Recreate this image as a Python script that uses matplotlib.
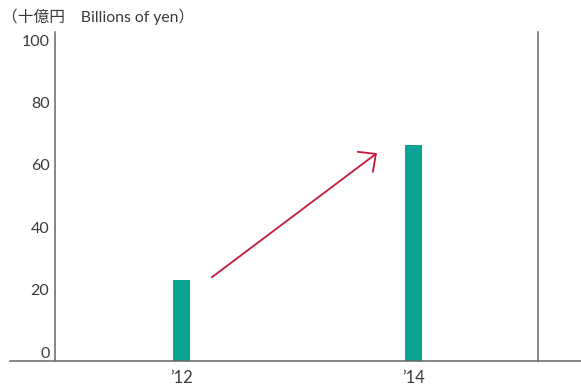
import matplotlib
matplotlib.use("Agg")
import matplotlib.pyplot as plt
from matplotlib.lines import Line2D

plt.rcParams['font.family'] = ['Lato', 'Noto Sans CJK JP', 'DejaVu Sans']

years = [2012, 2014]
year_labels = ["’12", "’14"]
values = [26, 69]
y_ticks = [0, 20, 40, 60, 80, 100]
unit_label = "（十億円　Billions of yen）"

W, H = 581, 387
fig = plt.figure(figsize=(W / 100, H / 100), dpi=100)
# axes box in pixel terms: left 55, right 538, bottom 360.7, top 32
ax = fig.add_axes([55 / W, (H - 360.7) / H, (538 - 55) / W, (360.7 - 32) / H])

axis_col = "#666666"
text_col = "#3a3a3a"

ax.bar(years, values, width=0.146, color="#0ba394", zorder=2)
ax.set_xlim(2010.91, 2015.07)
ax.set_ylim(0, 105.3)

for s in ["top", "bottom"]:
    ax.spines[s].set_visible(False)
for s in ["left", "right"]:
    ax.spines[s].set_color(axis_col)
    ax.spines[s].set_linewidth(1.1)

ax.set_yticks(y_ticks)
ax.set_yticklabels([str(v) for v in y_ticks])
ax.tick_params(axis="y", length=0, pad=4, labelsize=11.5, labelcolor=text_col)
for lab in ax.get_yticklabels():
    lab.set_verticalalignment("bottom")

ax.set_xticks(years)
ax.set_xticklabels(year_labels)
ax.tick_params(axis="x", length=0, pad=7, labelsize=12, labelcolor=text_col)

# baseline running across the figure
fig.add_artist(Line2D([10 / W, 1.0], [(H - 360.7) / H] * 2, color=axis_col, lw=1.1))

# growth arrow between the two bars
ax.annotate("", xy=(2013.683, 66.5), xytext=(2012.26, 26.7),
            arrowprops=dict(arrowstyle="->,head_length=0.95,head_width=0.9",
                            color="#c8163a", lw=1.3, shrinkA=0, shrinkB=0))

fig.text(2 / W, 1 - 17 / H, unit_label, ha="left", va="center", fontsize=11.3, color=text_col)

fig.savefig("out.png", dpi=100)
